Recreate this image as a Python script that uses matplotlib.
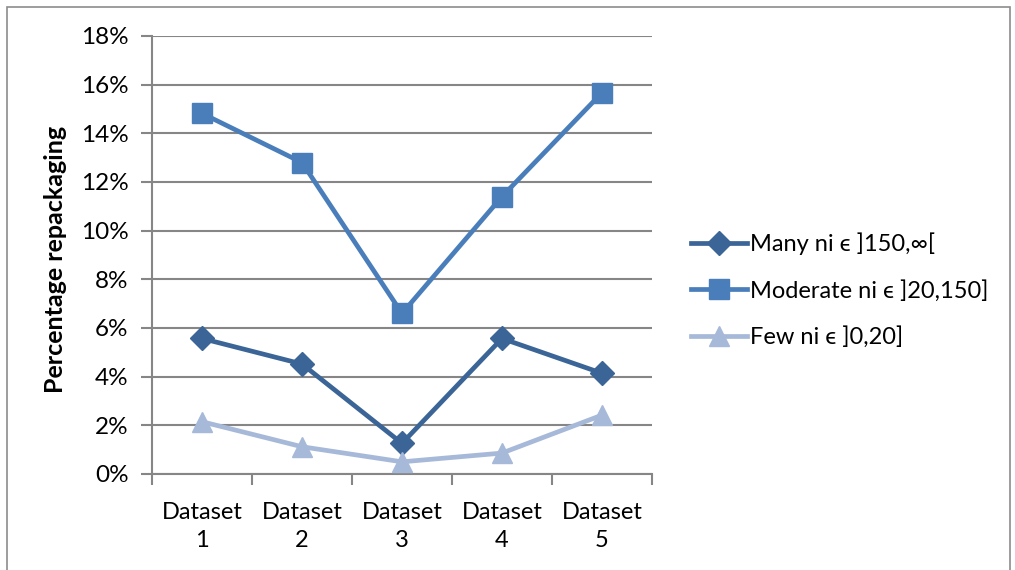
import matplotlib
matplotlib.use("Agg")
import matplotlib.pyplot as plt
from matplotlib.patches import Rectangle
from matplotlib.ticker import FuncFormatter, MultipleLocator
import numpy as np

# data
datasets = ["Dataset\n1", "Dataset\n2", "Dataset\n3", "Dataset\n4", "Dataset\n5"]
many = [5.57, 4.52, 1.26, 5.57, 4.14]
moderate = [14.82, 12.80, 6.60, 11.40, 15.67]
few = [2.15, 1.12, 0.50, 0.86, 2.42]
series_names = ["Many ni \u03f5 ]150,\u221e[", "Moderate ni \u03f5 ]20,150]", "Few ni \u03f5 ]0,20]"]

plt.rcParams['font.family'] = ['Lato', 'DejaVu Sans']
grid_col = "#868686"
fs = 17.5

fig = plt.figure(figsize=(10.15, 5.70), dpi=100)
# chart area border
fig.patches.append(Rectangle((7 / 1015, -0.1), 1003 / 1015, 1.1 - 7 / 570,
                             transform=fig.transFigure, fill=False,
                             edgecolor="#8c8c8c", linewidth=1.2))

ax = fig.add_axes([152 / 1015, 1 - 474 / 570, 500 / 1015, 438 / 570])
x = np.arange(len(datasets))

ax.plot(x, many, color="#3b6597", lw=3.4, marker="D", ms=12, label=series_names[0], zorder=3)
ax.plot(x, moderate, color="#4a7ebb", lw=3.4, marker="s", ms=14.5, label=series_names[1], zorder=3)
ax.plot(x, few, color="#a7b9d8", lw=3.4, marker="^", ms=14, label=series_names[2], zorder=3)

ax.set_xlim(-0.5, len(datasets) - 0.5)
ax.set_ylim(0, 18)
ax.yaxis.set_major_locator(MultipleLocator(2))
ax.yaxis.set_major_formatter(FuncFormatter(lambda v, p: "%d%%" % v))
ax.set_xticks(x)
ax.set_xticklabels(datasets, fontsize=17, linespacing=1.4)
ax.set_xticks(np.arange(-0.5, len(datasets)), minor=True)
ax.tick_params(axis="x", which="major", length=0, pad=20)
ax.tick_params(axis="x", which="minor", length=8, width=1.5, color=grid_col)
ax.tick_params(axis="y", length=8, width=1.5, color=grid_col, labelsize=fs, pad=9)

ax.grid(axis="y", color=grid_col, lw=1.5)
ax.set_axisbelow(True)
for s in ["top", "right"]:
    ax.spines[s].set_visible(False)
for s in ["left", "bottom"]:
    ax.spines[s].set_color(grid_col)
    ax.spines[s].set_linewidth(1.5)

ax.set_ylabel("Percentage repackaging", fontsize=18, fontweight="bold")
ax.yaxis.set_label_coords(-0.17, 0.49)

ax.legend(loc="center left", bbox_to_anchor=(1.06, 0.42), frameon=False, fontsize=17,
          handlelength=2.35, handletextpad=0.15, labelspacing=1.05, borderaxespad=0)

fig.savefig("out.png", dpi=100)
